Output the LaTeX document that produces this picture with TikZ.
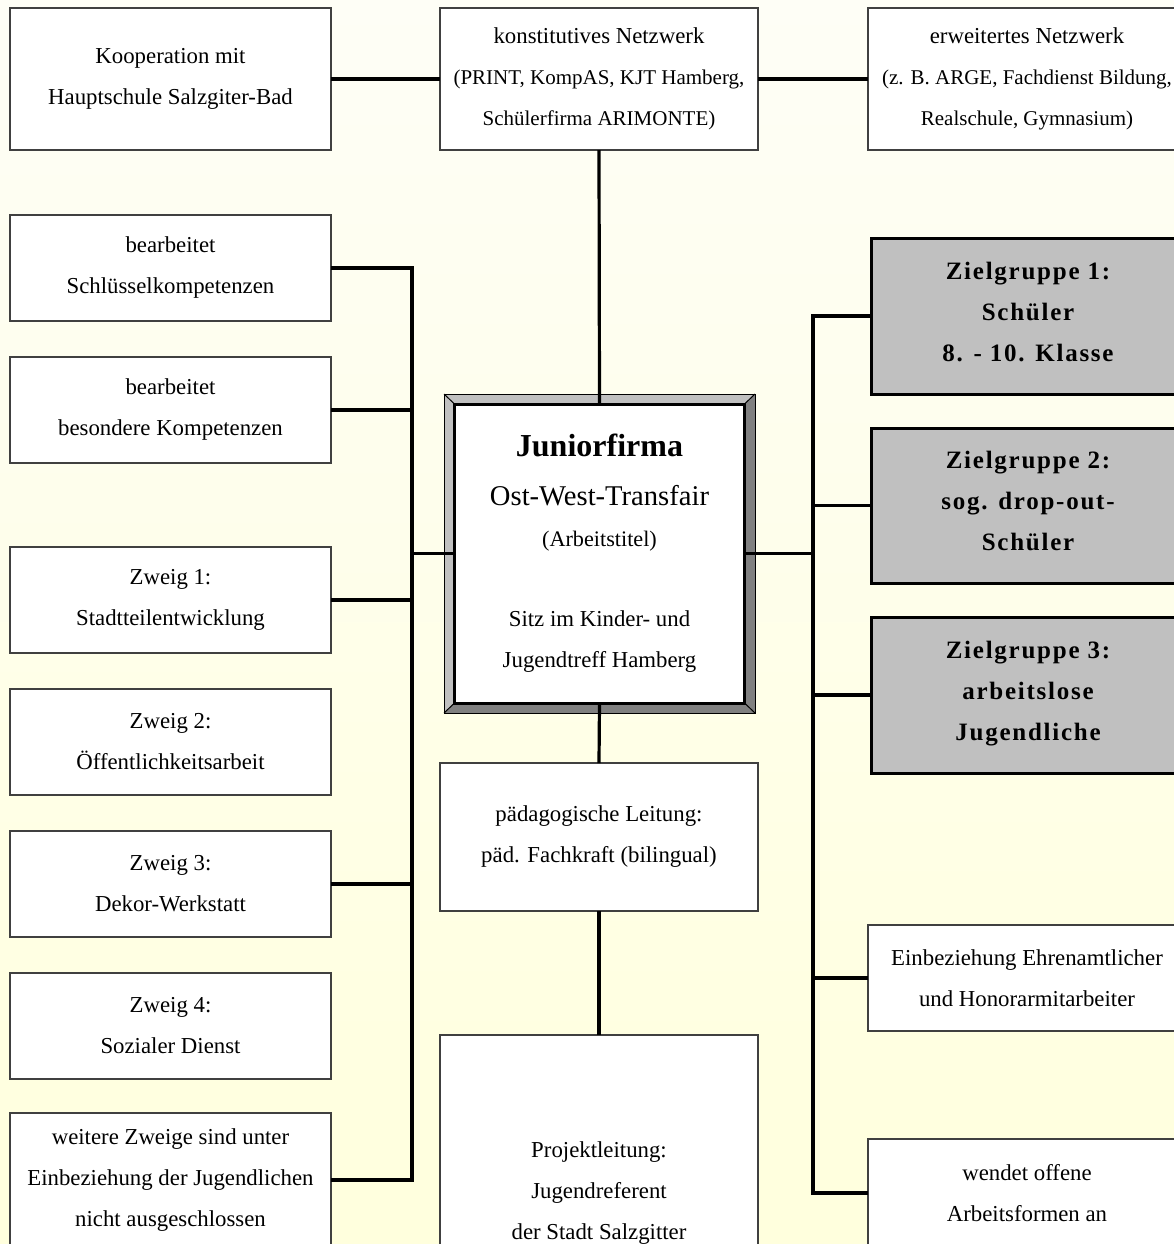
\documentclass[tikz,border=0pt]{standalone}
\usepackage{fontspec}
\setmainfont{Liberation Serif}
\newfontfamily\zgfont[LetterSpace=7]{Liberation Serif}
\definecolor{bgtop}{HTML}{FEFEF6}
\definecolor{bgbot}{HTML}{FFFFDD}
\definecolor{lgray}{HTML}{C0C0C0}
\definecolor{dgray}{HTML}{808080}
\newcommand\normtext{\fontsize{11.4}{20.5}\selectfont}
\newcommand\subtext{\fontsize{10.5}{20}\selectfont}
\newcommand\zgtext{\zgfont\bfseries\fontsize{12.5}{20.5}\selectfont}
\begin{document}
\begin{tikzpicture}[x=0.5pt,y=-0.5pt,
  box/.style={draw=black!75, line width=0.6pt, fill=white, inner sep=0pt, outer sep=0pt, align=center, font=\normtext},
  lbox/.style={box, minimum width=160.5pt, minimum height=53pt},
  cbox/.style={box, minimum width=159pt},
  zgbox/.style={draw=black, line width=1.5pt, fill=lgray, inner sep=0pt, outer sep=0pt, align=center, font=\zgtext, minimum width=157pt, text depth=4.5pt},
  conn/.style={line width=1.6pt, draw=black},
  bevel/.style={draw=black, line width=0.5pt}
]
\useasboundingbox (0,0) rectangle (1174,1244);
\shade[top color=bgtop, bottom color=bgbot] (0,0) rectangle (1174,1244);
\clip (0,0) rectangle (1174,1244);

% top row
\node[box, minimum width=160.5pt, minimum height=71pt] (koop) at (170.5,79) {Kooperation mit\\Hauptschule Salzgiter-Bad};
\node[cbox, minimum height=71pt] (konst) at (599,79) {konstitutives Netzwerk\\{\subtext (PRINT, KompAS, KJT Hamberg,}\\{\subtext Schülerfirma ARIMONTE)}};
\node[cbox, minimum height=71pt] (erw) at (1027,79) {erweitertes Netzwerk\\{\subtext (z. B. ARGE, Fachdienst Bildung,}\\{\subtext Realschule, Gymnasium)}};

% left column
\node[lbox] (bear1) at (170.5,268) {bearbeitet\\Schlüsselkompetenzen};
\node[lbox] (bear2) at (170.5,410) {bearbeitet\\besondere Kompetenzen};
\node[lbox] (z1) at (170.5,600) {Zweig 1:\\Stadtteilentwicklung};
\node[lbox] (z2) at (170.5,742) {Zweig 2:\\Öffentlichkeitsarbeit};
\node[lbox] (z3) at (170.5,884) {Zweig 3:\\Dekor-Werkstatt};
\node[lbox] (z4) at (170.5,1026) {Zweig 4:\\Sozialer Dienst};
\node[box, minimum width=160.5pt, minimum height=67pt] (weit) at (170.5,1180) {weitere Zweige sind unter\\Einbeziehung der Jugendlichen\\nicht ausgeschlossen};

% central box with bevelled frame
\node[draw=black, line width=0.5pt, inner sep=0pt, outer sep=0pt, minimum width=155.5pt, minimum height=159.5pt] (frame) at (599.5,553.5) {};
\fill[lgray] (frame.north west) -- (frame.north east) -- ([shift={(-10.5,10)}]frame.north east) -- ([shift={(10.5,10)}]frame.north west) -- cycle;
\fill[lgray] (frame.north west) -- ([shift={(10.5,10)}]frame.north west) -- ([shift={(10.5,-10)}]frame.south west) -- (frame.south west) -- cycle;
\fill[dgray] (frame.north east) -- (frame.south east) -- ([shift={(-10.5,-10)}]frame.south east) -- ([shift={(-10.5,10)}]frame.north east) -- cycle;
\fill[dgray] (frame.south west) -- (frame.south east) -- ([shift={(-10.5,-10)}]frame.south east) -- ([shift={(10.5,-10)}]frame.south west) -- cycle;
\draw[bevel] (frame.north west) rectangle (frame.south east);
\draw[bevel] (frame.north west) -- ++(10.5,10);
\draw[bevel] (frame.north east) -- ++(-10.5,10);
\draw[bevel] (frame.south west) -- ++(10.5,-10);
\draw[bevel] (frame.south east) -- ++(-10.5,-10);
\node[draw=black, line width=1.5pt, fill=white, inner sep=0pt, outer sep=0pt, minimum width=145pt, minimum height=149.5pt, align=center, font=\normtext] (junior) at (599.5,553.5)
 {{\fontsize{16}{20}\selectfont\bfseries Juniorfirma}\\[4pt]{\fontsize{14.3}{20}\selectfont Ost-West-Transfair}\\{\fontsize{11.1}{20}\selectfont (Arbeitstitel)}\\[19.5pt]Sitz im Kinder- und\\Jugendtreff Hamberg};

% centre column below
\node[cbox, minimum height=74pt] (paed) at (599,837) {pädagogische Leitung:\\päd. Fachkraft (bilingual)};
\node[cbox, minimum height=158pt] (proj) at (599,1193) {Projektleitung:\\Jugendreferent\\der Stadt Salzgitter};

% right column
\node[zgbox, minimum height=78pt] (zg1) at (1028,316) {Zielgruppe 1:\\Schüler\\8. - 10. Klasse};
\node[zgbox, minimum height=77.5pt] (zg2) at (1028,505.5) {Zielgruppe 2:\\sog. drop-out-\\Schüler};
\node[zgbox, minimum height=78pt] (zg3) at (1028,695) {Zielgruppe 3:\\arbeitslose\\Jugendliche};
\node[cbox, minimum height=53pt] (ehren) at (1027,978) {Einbeziehung Ehrenamtlicher\\und Honorarmitarbeiter};
\node[cbox, minimum height=54pt] (wend) at (1027,1193) {wendet offene\\Arbeitsformen an};

% connectors
\coordinate (lbus) at (412,0);
\coordinate (rbus) at (813,0);
\draw[conn] (koop.east) -- (konst.west);
\draw[conn] (konst.east) -- (erw.west);
\draw[conn] (konst.south) -- (junior.north);
\draw[conn] (junior.south) -- (paed.north);
\draw[conn] (paed.south) -- (proj.north);
\draw[conn] (bear1.east) -- (bear1.east -| lbus) -- (weit.east -| lbus) -- (weit.east);
\draw[conn] (bear2.east) -- (bear2.east -| lbus);
\draw[conn] (z1.east) -- (z1.east -| lbus);
\draw[conn] (z3.east) -- (z3.east -| lbus);
\draw[conn] (junior.west) -- (junior.west -| lbus);
\draw[conn] (zg1.west) -- (zg1.west -| rbus) -- (wend.west -| rbus) -- (wend.west);
\draw[conn] (zg2.west) -- (zg2.west -| rbus);
\draw[conn] (zg3.west) -- (zg3.west -| rbus);
\draw[conn] (ehren.west) -- (ehren.west -| rbus);
\draw[conn] (junior.east) -- (junior.east -| rbus);
\end{tikzpicture}
\end{document}
